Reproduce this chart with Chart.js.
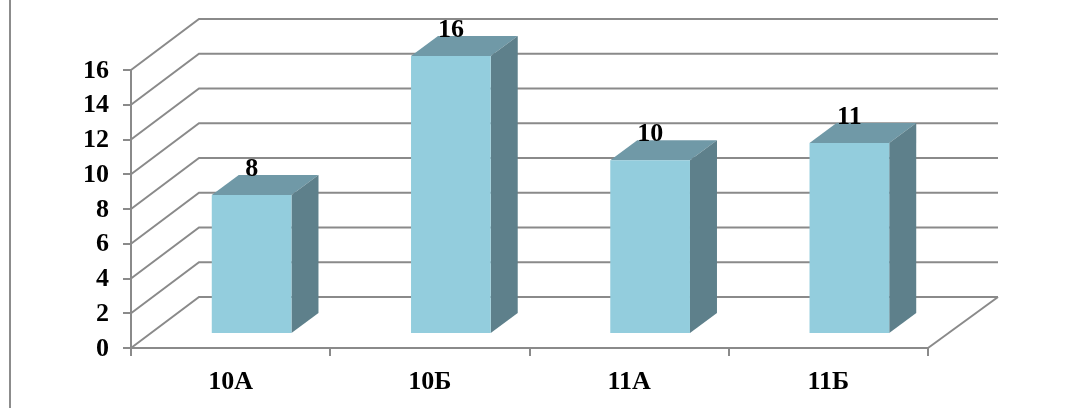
<!DOCTYPE html>
<html lang="ru">
  <head>
    <meta charset="UTF-8">
    <title>chart</title>
    <style>
      html, body { margin: 0; padding: 0; background: #fff; overflow: hidden; }
      #frame { position: absolute; left: 9px; top: 0; width: 2px; height: 408px; background: #8c8c8c; }
      #myChart { position: absolute; left: 0; top: 0; }
    </style>
  </head>
  <body>
    <div id="frame"></div>
    <canvas id="myChart" width="1071" height="408"></canvas>
    <script src="https://cdn.jsdelivr.net/npm/chart.js"></script>
    <script>
const categories = ['10А', '10Б', '11А', '11Б'];
const pupils = [8, 16, 10, 11];
const yTicks = [0, 2, 4, 6, 8, 10, 12, 14, 16];

const axisColor = '#8a8a8a';
const frontColor = '#93cddd';
const topColor = '#7099a7';
const sideColor = '#5e808b';
const labelFont = 'bold 26px "Liberation Serif"';

// wall depth of the fake 3D box, and how far into it the bars stand
const wallX = 68, wallY = -51, wallRightExtra = 2;
const barX = 21, barY = -14;
const sideX = 27, sideY = -20;

// side walls and back wall lines, from the y scale
const walls = {
  id: 'walls',
  beforeDatasetsDraw(chart) {
    const { ctx, scales: { x, y } } = chart;
    ctx.save();
    ctx.strokeStyle = axisColor;
    ctx.lineWidth = 2;
    yTicks.forEach(v => {
      const py = y.getPixelForValue(v);
      ctx.beginPath();
      ctx.moveTo(x.left, py);
      ctx.lineTo(x.left + wallX, py + wallY);
      ctx.lineTo(x.right + wallX + wallRightExtra, py + wallY);
      ctx.stroke();
    });
    const py0 = y.getPixelForValue(0);
    ctx.beginPath();
    ctx.moveTo(x.right, py0);
    ctx.lineTo(x.right + wallX + wallRightExtra, py0 + wallY);
    ctx.stroke();
    ctx.restore();
  }
};

// shifts the bars into the box and adds top and side faces
const box = {
  id: 'box',
  beforeDatasetsDraw(chart) {
    const { ctx } = chart;
    ctx.save();
    ctx.translate(barX, barY);
    chart.getDatasetMeta(0).data.forEach(bar => {
      const l = bar.x - bar.width / 2, r = bar.x + bar.width / 2;
      ctx.fillStyle = topColor;
      ctx.beginPath();
      ctx.moveTo(l, bar.y);
      ctx.lineTo(l + sideX, bar.y + sideY);
      ctx.lineTo(r + sideX, bar.y + sideY);
      ctx.lineTo(r, bar.y);
      ctx.fill();
      ctx.fillStyle = sideColor;
      ctx.beginPath();
      ctx.moveTo(r, bar.y);
      ctx.lineTo(r + sideX, bar.y + sideY);
      ctx.lineTo(r + sideX, bar.base + sideY);
      ctx.lineTo(r, bar.base);
      ctx.fill();
    });
  },
  afterDatasetsDraw(chart) {
    const { ctx } = chart;
    ctx.fillStyle = '#000';
    ctx.font = labelFont;
    ctx.textAlign = 'center';
    ctx.textBaseline = 'middle';
    chart.getDatasetMeta(0).data.forEach((bar, i) => {
      ctx.fillText(pupils[i], bar.x, bar.y - 26);
    });
    ctx.restore();
  }
};

const myChart = new Chart(document.getElementById('myChart'), {
  type: 'bar',
  data: {
    labels: categories,
    datasets: [{
      data: pupils,
      backgroundColor: frontColor,
      barPercentage: 0.4,
      categoryPercentage: 1
    }]
  },
  options: {
    responsive: false,
    animation: false,
    layout: { padding: { top: 70, right: 143, left: 0, bottom: 0 } },
    plugins: { legend: { display: false }, tooltip: { enabled: false } },
    scales: {
      x: {
        afterFit(s) { s.height = 60; },
        grid: { drawOnChartArea: false, color: axisColor, lineWidth: 2, tickLength: 8 },
        border: { color: axisColor, width: 2 },
        ticks: { color: '#000', padding: 11, maxRotation: 0, font: { family: 'Liberation Serif', size: 26, weight: 'bold' } }
      },
      y: {
        min: 0,
        max: 16,
        afterFit(s) { s.width = 131; },
        grid: { drawOnChartArea: false, color: axisColor, lineWidth: 2, tickLength: 8 },
        border: { color: axisColor, width: 2 },
        ticks: { stepSize: 2, color: '#000', padding: 14, labelOffset: 1, font: { family: 'Liberation Serif', size: 26, weight: 'bold' } }
      }
    }
  },
  plugins: [walls, box]
});
    </script>
  </body>
</html>
